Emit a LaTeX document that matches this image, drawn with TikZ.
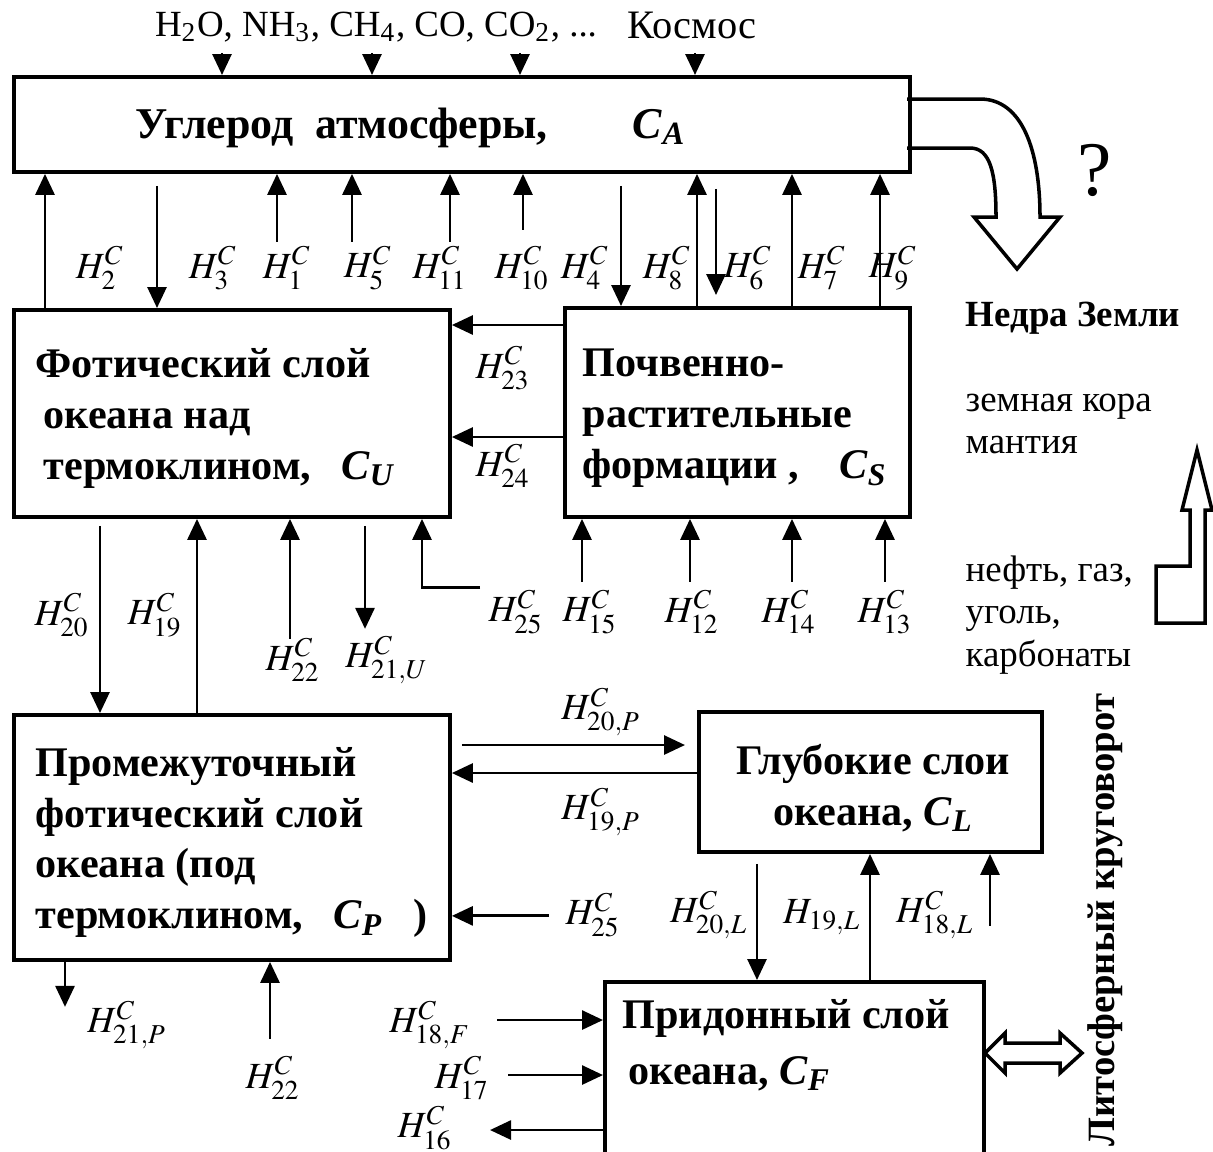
\documentclass[tikz,border=0pt]{standalone}
\usepackage{mathptmx}
\usepackage{fontspec}
\setmainfont{Liberation Serif}
\usetikzlibrary{arrows.meta,positioning}

\tikzset{
  box/.style={draw, line width=1.1pt, anchor=north west, inner sep=0pt},
  boxtext/.style={font=\fontsize{12}{14.5}\selectfont\bfseries, align=left, inner sep=0pt, anchor=west},
  flow/.style={line width=0.8pt, -{Triangle[length=2.1mm,width=1.9mm]}},
  lab/.style={font=\fontsize{10.5}{12}\selectfont, inner sep=0pt},
  note/.style={font=\fontsize{10.5}{12}\selectfont, align=left, inner sep=0pt, anchor=west},
  hollow/.style={line width=1pt, line join=miter},
}
\newcommand{\HC}[1]{$H^{C}_{#1}$}
\newcommand{\Cx}[1]{\textit{C}\textsubscript{\textit{#1}}}

\begin{document}
\begin{tikzpicture}
\useasboundingbox (0,0) rectangle (12.13,-11.51);

% reservoirs
\node[box, minimum width=8.96cm, minimum height=0.95cm] (A) at (0.12,-0.75) {};
\node[box, minimum width=4.36cm, minimum height=2.07cm] (U) at (0.12,-3.08) {};
\node[box, minimum width=3.45cm, minimum height=2.09cm] (S) at (5.63,-3.06) {};
\node[box, minimum width=4.36cm, minimum height=2.45cm] (P) at (0.12,-7.13) {};
\node[box, minimum width=3.43cm, minimum height=1.40cm] (L) at (6.97,-7.10) {};
\node[box, minimum width=3.79cm, minimum height=1.85cm] (F) at (6.03,-9.80) {};

\node[boxtext, font=\fontsize{12.5}{14.5}\selectfont\bfseries] (Atext) at ([xshift=12.3mm,yshift=-0.3mm]A.west) {Углерод\ \ атмосферы,\hspace{8.5mm}\Cx{A}};
\node[boxtext] (Utext) at ([xshift=2.3mm,yshift=-0.5mm]U.west) {Фотический слой\\\hspace*{0.8mm}океана над\\\hspace*{0.8mm}термоклином,\hspace{3mm}\Cx{U}};
\node[boxtext] (Stext) at ([xshift=1.9mm,yshift=-0.6mm]S.west) {Почвенно-\\растительные\\формации ,\hspace{4mm}\Cx{S}};
\node[boxtext] (Ptext) at ([xshift=2.3mm,yshift=-0.5mm]P.west) {Промежуточный\\фотический слой\\океана (под\\термоклином,\hspace{3mm}\Cx{P}\hspace{3mm})};
\node[boxtext, align=center, anchor=center] (Ltext) at ([xshift=0.3mm,yshift=-0.6mm]L.center) {Глубокие слои\\океана, \Cx{L}};
\node[boxtext, font=\fontsize{12}{16}\selectfont\bfseries] (Ftext) at ([xshift=1.9mm,yshift=-6.5mm]F.north west) {Придонный слой\\\hspace*{0.6mm}океана, \Cx{F}};

% inputs to the atmosphere
\node[font=\fontsize{10.5}{14}\selectfont, inner sep=0pt] (gases) at (3.76,-0.27) {H\textsubscript{2}O, NH\textsubscript{3}, CH\textsubscript{4}, CO, CO\textsubscript{2}, ...};
\node[font=\fontsize{11.5}{14}\selectfont, inner sep=0pt] (space) at (6.92,-0.25) {Космос};
\foreach \x in {21,36,50.8,68.3}
  \draw[flow] ([xshift=\x mm,yshift=-1mm]A.north west |- gases.south) -- ([xshift=\x mm]A.north west);

% atmosphere <-> upper layers
\draw[flow] ([xshift=3.3mm]U.north west) -- ([xshift=3.3mm]U.north west |- A.south);
\draw[flow] ([xshift=14.5mm,yshift=-1.2mm]A.south west) -- ([xshift=14.5mm]A.south west |- U.north);
\foreach \x/\y in {26.5/6.8,34/6.8,43.8/6.8,51.1/5.6}
  \draw[flow] ([xshift=\x mm,yshift=-\y mm]A.south west) -- ([xshift=\x mm]A.south west);
\draw[flow] ([xshift=60.9mm,yshift=-1.2mm]A.south west) -- ([xshift=60.9mm]A.south west |- S.north);
\foreach \x in {68.5,78,86.8}
  \draw[flow] ([xshift=\x mm]A.south west |- S.north) -- ([xshift=\x mm]A.south west);
\draw[flow] ([xshift=70.4mm,yshift=-1.5mm]A.south west) -- ([xshift=70.4mm,yshift=1.1mm]A.south west |- S.north);

% soil -> photic layer
\foreach \y in {1.9,13.1}
  \draw[flow] ([yshift=-\y mm]S.north west) -- ([yshift=-\y mm]S.north west -| U.east);

% below the photic layer
\draw[flow] ([xshift=8.8mm,yshift=-0.7mm]U.south west) -- ([xshift=8.8mm]U.south west |- P.north);
\draw[flow] ([xshift=18.5mm]U.south west |- P.north) -- ([xshift=18.5mm]U.south west);
\draw[flow] ([xshift=27.8mm,yshift=-12mm]U.south west) -- ([xshift=27.8mm]U.south west);
\draw[flow] ([xshift=35.3mm,yshift=-0.7mm]U.south west) -- ([xshift=35.3mm,yshift=-11mm]U.south west);
\draw[flow] ([xshift=46.8mm,yshift=-6.9mm]U.south west) -| ([xshift=41mm]U.south west);

% below the soil
\foreach \x in {1.9,12.7,22.9,32.2}
  \draw[flow] ([xshift=\x mm,yshift=-6.3mm]S.south west) -- ([xshift=\x mm]S.south west);

% intermediate <-> deep
\draw[flow] ([xshift=1mm,yshift=-3.5mm]L.north west -| P.east) -- ([xshift=-1.2mm,yshift=-3.5mm]L.north west);
\draw[flow] ([yshift=-6.3mm]L.north west) -- ([yshift=-6.3mm]L.north west -| P.east);
\draw[flow] ([xshift=9.7mm,yshift=4.6mm]P.south east) -- ([yshift=4.6mm]P.south east);

% deep <-> bottom
\draw[flow] ([xshift=6mm,yshift=-1mm]L.south west) -- ([xshift=6mm]L.south west |- F.north);
\draw[flow] ([xshift=17.3mm]L.south west |- F.north) -- ([xshift=17.3mm]L.south west);
\draw[flow] ([xshift=29.3mm,yshift=-7.2mm]L.south west) -- ([xshift=29.3mm]L.south west);

% below the intermediate layer
\draw[flow] ([xshift=5.3mm]P.south west) -- ([xshift=5.3mm,yshift=-4.5mm]P.south west);
\draw[flow] ([xshift=25.8mm,yshift=-7.7mm]P.south west) -- ([xshift=25.8mm]P.south west);

% bottom layer side fluxes
\draw[flow] ([xshift=-10.6mm,yshift=-4mm]F.north west) -- ([yshift=-4mm]F.north west);
\draw[flow] ([xshift=-9.5mm,yshift=-9.5mm]F.north west) -- ([yshift=-9.5mm]F.north west);
\draw[flow] ([yshift=-15mm]F.north west) -- ([xshift=-11.3mm,yshift=-15mm]F.north west);

% flux labels
\foreach \n/\x/\y in {2/1.00/2.68, 3/2.13/2.68, 1/2.87/2.68, 5/3.68/2.68, 11/4.40/2.68,
    10/5.22/2.68, 4/5.85/2.68, 8/6.67/2.68, 6/7.48/2.68, 7/8.22/2.68, 9/8.93/2.68,
    23/5.03/3.68, 24/5.03/4.66, 20/0.62/6.15, 19/1.55/6.15, 15/5.90/6.12,
    12/6.92/6.12, 14/7.89/6.12, 13/8.85/6.12, 17/4.62/10.78, 16/4.25/11.28}
  \node[lab] (h\n) at (\x,-\y) {\HC{\n}};
\node[lab] (h22u) at (2.93,-6.60) {\HC{22}};
\node[lab] (h21u) at (3.87,-6.60) {\HC{21,U}};
\node[lab] (h25u) at (5.16,-6.12) {\HC{25}};
\node[lab] (h20p) at (6.01,-7.12) {\HC{20,P}};
\node[lab] (h19p) at (6.01,-8.12) {\HC{19,P}};
\node[lab] (h25p) at (5.93,-9.15) {\HC{25}};
\node[lab] (h20l) at (7.09,-9.15) {\HC{20,L}};
\node[lab] (h19l) at (8.22,-9.17) {$H_{19,L}$};
\node[lab] (h18l) at (9.35,-9.15) {\HC{18,L}};
\node[lab] (h21p) at (1.27,-10.25) {\HC{21,P}};
\node[lab] (h22p) at (2.73,-10.78) {\HC{22}};
\node[lab] (h18f) at (4.30,-10.25) {\HC{18,F}};

% Earth interior
\draw[hollow] (9.07,-0.99) -- (9.80,-0.99) .. controls (10.22,-0.99) and (10.40,-1.50) .. (10.40,-2.17)
  -- (10.60,-2.17) -- (10.17,-2.69) -- (9.74,-2.17) -- (9.96,-2.17)
  .. controls (9.96,-1.72) and (9.90,-1.48) .. (9.70,-1.48) -- (9.07,-1.48);
\node[font=\fontsize{22}{24}\selectfont, inner sep=0pt] (quest) at (10.95,-1.70) {?};
\node[note, font=\fontsize{10.5}{12}\selectfont\bfseries] (depths) at (9.65,-3.18) {Недра Земли};
\node[note] (crust) at (9.65,-4.24) {земная кора\\мантия};
\node[note] (fuels) at (9.65,-6.15) {нефть, газ,\\уголь,\\карбонаты};
\draw[hollow] (11.97,-4.50) -- (12.12,-5.10) -- (12.05,-5.10) -- (12.05,-6.23) -- (11.56,-6.23)
  -- (11.56,-5.66) -- (11.90,-5.66) -- (11.90,-5.10) -- (11.82,-5.10) -- cycle;

% lithosphere cycle
\draw[hollow] (9.85,-10.53) -- (10.05,-10.33) -- (10.05,-10.43) -- (10.60,-10.43) -- (10.60,-10.33)
  -- (10.82,-10.53) -- (10.60,-10.73) -- (10.60,-10.63) -- (10.05,-10.63) -- (10.05,-10.73) -- cycle;
\node[font=\fontsize{11}{12}\selectfont\bfseries, rotate=90, inner sep=0pt] (litho) at (11.05,-9.20) {Литосферный круговорот};
\end{tikzpicture}
\end{document}
